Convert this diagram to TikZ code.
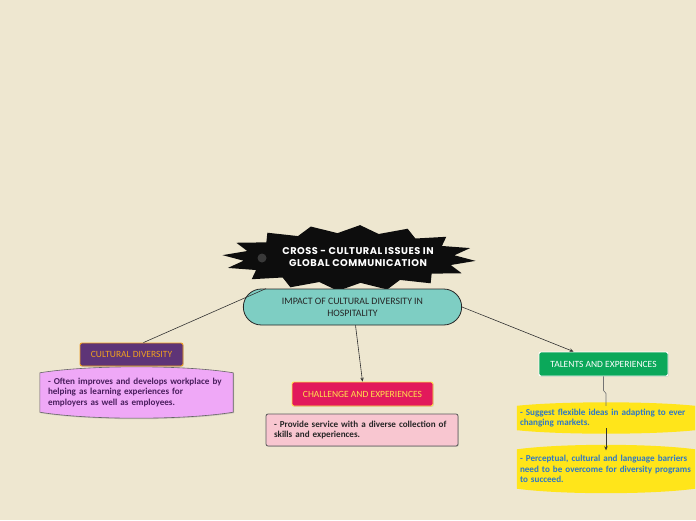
\documentclass[tikz,border=0pt]{standalone}
\usepackage{fontspec}
\setmainfont{Carlito}
\newfontfamily\burstfont[LetterSpace=5]{Poppins}
\usetikzlibrary{arrows.meta,positioning,shapes.misc,calc,backgrounds,shadows}
\definecolor{paper}{HTML}{EEE7D0}
\definecolor{teal}{HTML}{7ECEC3}
\definecolor{plum}{HTML}{5E3477}
\definecolor{amber}{HTML}{F0A020}
\definecolor{lilac}{HTML}{EFA8F7}
\definecolor{lilacink}{HTML}{4A1E5E}
\definecolor{crimson}{HTML}{E2195B}
\definecolor{lemon}{HTML}{FFE14D}
\definecolor{blush}{HTML}{F8C6D0}
\definecolor{leaf}{HTML}{0BA85A}
\definecolor{sun}{HTML}{FFE51A}
\definecolor{sky}{HTML}{2E78C8}
\tikzset{
  mind/burst/.style={fill=black!95},
  mind/main/.style={rounded rectangle, draw=black!85, line width=0.8pt, fill=teal, minimum width=225pt, minimum height=36pt, align=center, font=\fontsize{9.8}{12}\selectfont, text=black!85},
  mind/label/.style={draw, rounded corners=2pt, line width=0.9pt, minimum height=23pt, inner xsep=4pt, font=\fontsize{9.5}{10}\selectfont, drop shadow={opacity=0.25, shadow xshift=0.8pt, shadow yshift=-0.8pt}},
  mind/note/.style={align=left, inner xsep=8pt, inner ysep=0pt, font=\bfseries\fontsize{9.1}{10.2}\selectfont},
  mind/barrel/.style={line width=0.6pt},
  mind/link/.style={line width=0.6pt, draw=black!80},
  mind/arr/.style={mind/link, -{Stealth[length=4pt,width=3.5pt]}},
  mind/stem/.style={line width=0.6pt, draw=black!55}
}
% barrel shape round a note node: name, bulge, style
\newcommand\barrel[3]{%
  \draw[mind/barrel,#3] (#1.north west)
    .. controls ($(#1.north west)!0.25!(#1.north east)+(0,-#2*1.33)$) and ($(#1.north west)!0.75!(#1.north east)+(0,-#2*1.33)$) .. (#1.north east)
    -- (#1.south east)
    .. controls ($(#1.south west)!0.75!(#1.south east)+(0,#2*1.33)$) and ($(#1.south west)!0.25!(#1.south east)+(0,#2*1.33)$) .. (#1.south west)
    -- cycle;}

\begin{document}
\begin{tikzpicture}[x=1pt, y=-1pt]

\begin{scope}[on background layer]
  \fill[paper] (0,0) rectangle (696,520);
\end{scope}
\useasboundingbox (0,0) rectangle (696,520);

% central burst
\fill[mind/burst] plot[samples at={0,...,31}, variable=\k]
  ({349+ifthenelse(mod(\k,2)==0,127,106)*cos(\k*11.25+5)},
   {258+ifthenelse(mod(\k,2)==0,33,25)*sin(\k*11.25+5)}) -- cycle;
\node[circle, fill=gray!45!black, inner sep=0pt, minimum size=9pt] (icon) at (262,258) {};
\node[font=\burstfont\bfseries\fontsize{9.8}{12}\selectfont, text=white, align=center] (root) at (358,257)
  {CROSS - CULTURAL ISSUES IN\\GLOBAL COMMUNICATION};

\node[mind/main] (main) at (352.5,307) {IMPACT OF CULTURAL DIVERSITY IN\\HOSPITALITY};

% left branch
\node[mind/label, fill=plum, draw=amber, text=amber, minimum width=103pt] (cult) at (131.5,354.5) {CULTURAL DIVERSITY};
\node[mind/note, text=lilacink, text width=177pt, minimum width=193pt, minimum height=39pt] (divnote) at (136.5,392.5)
  {- Often improves and develops workplace by\\helping as learning experiences for\\employers as well as employees.};

% middle branch
\node[mind/label, fill=crimson, draw=lemon, text=lemon, minimum width=141pt, minimum height=24pt] (chal) at (362.5,394) {CHALLENGE AND EXPERIENCES};
\node[mind/note, draw=black!65, line width=0.8pt, fill=blush, rounded corners=2pt, text=black!85, text width=176pt, minimum width=192pt, minimum height=32pt, drop shadow={opacity=0.3, shadow xshift=0.8pt, shadow yshift=-0.8pt}] (provnote) at (362,430)
  {- Provide service with a diverse collection of\\skills and experiences.};

% right branch
\node[mind/label, fill=leaf, draw=white, text=white, minimum width=129pt, minimum height=24pt] (tal) at (603.5,364) {TALENTS AND EXPERIENCES};
\node[mind/note, text=sky, inner xsep=3pt, text width=172pt, minimum width=178pt, minimum height=24pt] (sug) at (606,418)
  {- Suggest flexible ideas in adapting to ever\\changing markets.};
\node[mind/note, text=sky, inner xsep=3pt, text width=172pt, minimum width=178pt, minimum height=39pt] (perc) at (606,469)
  {- Perceptual, cultural and language barriers\\need to be overcome for diversity programs\\to succeed.};

\begin{scope}[on background layer]
  \barrel{divnote}{6}{fill=lilac, draw=black!60, drop shadow={opacity=0.3, shadow xshift=0.8pt, shadow yshift=-1pt}}
  \barrel{sug}{3.5}{fill=sun, draw=none}
  \barrel{perc}{4.5}{fill=sun, draw=none}
\end{scope}

% connectors
\draw[mind/link] (main.168) -- ([xshift=12pt]cult.north);
\draw[mind/arr] ([xshift=3pt]main.south) -- (chal.north);
\draw[mind/arr] (main.east) -- ([xshift=-30pt]tal.north);
\draw[mind/stem] (tal.south) -- ++(0,14) -- ++(2.5,3) -- (sug.north);
\draw[mind/arr] ([yshift=2pt]sug.south) -- ([yshift=-1pt]perc.north);

\end{tikzpicture}
\end{document}
